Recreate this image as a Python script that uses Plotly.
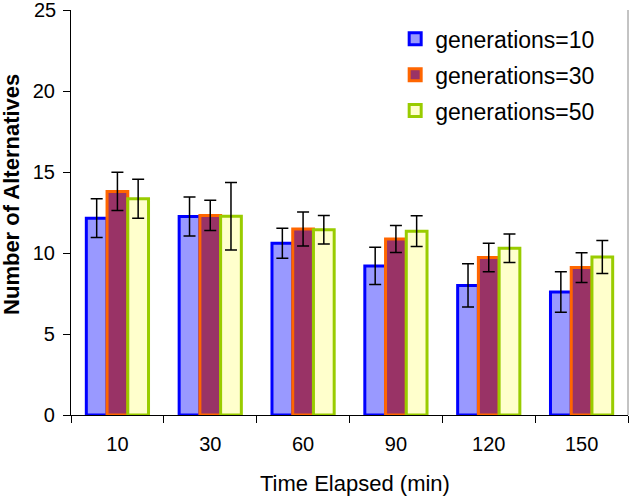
import plotly.graph_objects as go

categories = ["10", "30", "60", "90", "120", "150"]
gen10 = [12.15, 12.25, 10.6, 9.2, 8.0, 7.6]
gen10_err = [1.2, 1.2, 0.93, 1.15, 1.34, 1.25]
gen30 = [13.8, 12.32, 11.48, 10.86, 9.72, 9.1]
gen30_err = [1.18, 0.93, 1.05, 0.83, 0.88, 0.92]
gen50 = [13.35, 12.27, 11.43, 11.35, 10.3, 9.75]
gen50_err = [1.2, 2.08, 0.88, 0.95, 0.88, 1.02]
names = ["generations=10", "generations=30", "generations=50"]
y_ticks = [0, 5, 10, 15, 20, 25]

fills = ["#9999ff", "#993366", "#ffffcc"]
borders = ["#0000ff", "#ff6600", "#99cc00"]

FONT = "Liberation Sans, Arial, sans-serif"

fig = go.Figure()
for i, (vals, errs) in enumerate([(gen10, gen10_err), (gen30, gen30_err), (gen50, gen50_err)]):
    fig.add_trace(go.Bar(
        x=categories, y=vals, name=names[i], legendgroup=names[i],
        marker=dict(color=fills[i], line=dict(color=borders[i], width=3)),
        error_y=dict(type="data", array=errs, visible=True, color="black",
                     thickness=1.5, width=6),
    ))

# top tick label drawn as annotation (plotly hides it at the paper edge)
tick_text = [str(v) + "\u2009" for v in y_ticks[:-1]] + [""]

fig.update_layout(
    width=632, height=498,
    margin=dict(l=71, r=4, t=10, b=83),
    paper_bgcolor="white", plot_bgcolor="white",
    barmode="group", bargap=0.33, bargroupgap=0,
    font=dict(family=FONT, size=20, color="black"),
    showlegend=True,
    legend=dict(x=0.582, y=0.982, xanchor="left", yanchor="top",
                font=dict(size=23, family=FONT), traceorder="grouped",
                tracegroupgap=3, bgcolor="rgba(0,0,0,0)", itemwidth=30),
    xaxis=dict(type="category", showline=True, linecolor="black", linewidth=1,
               ticks="outside", tickson="boundaries", ticklen=7, tickcolor="black",
               ticklabelstandoff=11, tickfont=dict(size=20)),
    yaxis=dict(range=[0, 25], tickvals=y_ticks, ticktext=tick_text,
               showline=True, linecolor="black", linewidth=1,
               ticks="outside", ticklen=7, tickcolor="black", showgrid=False, zeroline=False,
               tickfont=dict(size=20)),
    annotations=[
        dict(text=str(y_ticks[-1]), xref="paper", yref="y", x=-0.0235, y=y_ticks[-1],
             xanchor="right", yanchor="middle", showarrow=False, font=dict(size=20)),
        dict(text="Time Elapsed (min)", xref="paper", yref="paper", x=0.509, y=-0.168,
             xanchor="center", yanchor="middle", showarrow=False, font=dict(size=22)),
        dict(text="<b>Number of Alternatives</b>", xref="paper", yref="paper",
             x=-0.1060, y=0.5457, xanchor="center", yanchor="middle", textangle=-90,
             showarrow=False, font=dict(size=22)),
    ],
)
fig.add_shape(type="line", xref="paper", yref="paper", x0=1, x1=1, y0=0, y1=1,
              line=dict(color="#888888", width=1))

fig.write_html("out.html")
